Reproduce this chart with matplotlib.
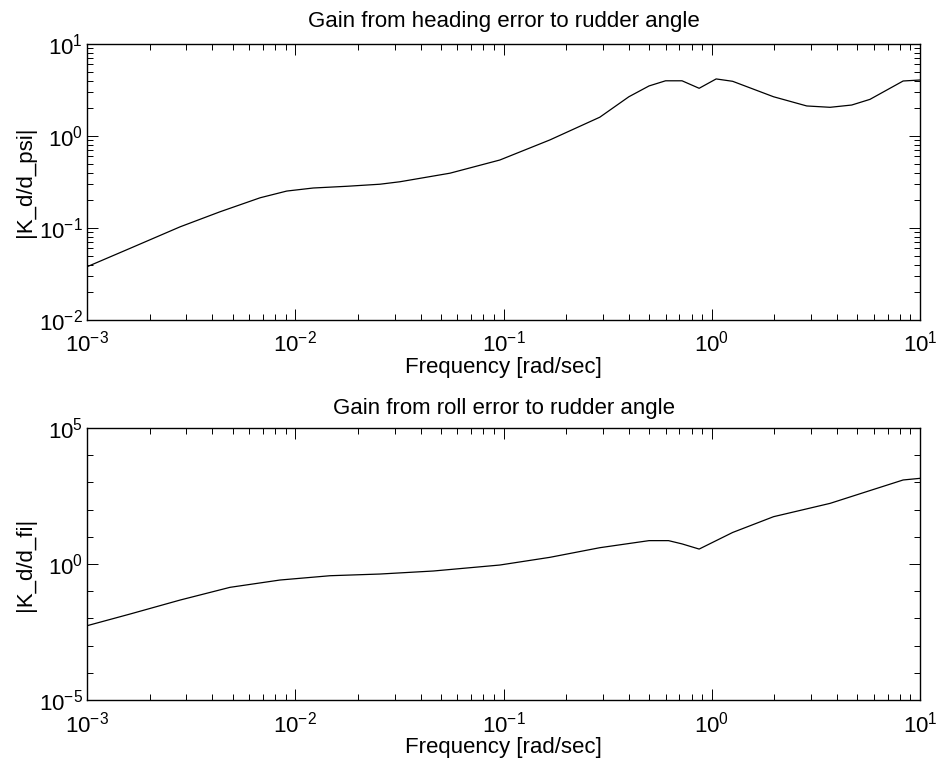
import numpy as np
import matplotlib.pyplot as plt
from matplotlib.ticker import LogLocator, NullFormatter

plt.rcParams['font.family'] = ['Liberation Sans', 'DejaVu Sans']
plt.rcParams['mathtext.fontset'] = 'custom'
plt.rcParams['mathtext.rm'] = 'Liberation Sans'

# frequency samples [rad/sec] and |K_d/d_psi|
freq_psi = [0.001, 0.00161, 0.0028, 0.00435, 0.00678, 0.0091, 0.0122, 0.0177,
            0.0255, 0.0318, 0.0553, 0.096, 0.167, 0.29, 0.4, 0.5, 0.6, 0.72,
            0.87, 1.05, 1.26, 1.98, 2.86, 3.7, 4.7, 5.75, 8.3, 10.0]
gain_psi = [0.0379, 0.0601, 0.103, 0.150, 0.213, 0.252, 0.272, 0.284, 0.299,
            0.318, 0.394, 0.548, 0.906, 1.60, 2.67, 3.5, 3.98, 3.98, 3.3, 4.17,
            3.93, 2.67, 2.12, 2.05, 2.17, 2.5, 3.96, 4.06]

# frequency samples [rad/sec] and log10 |K_d/d_fi|
freq_fi = [0.001, 0.00161, 0.0028, 0.00486, 0.00845, 0.0147, 0.0255, 0.046,
           0.096, 0.167, 0.29, 0.5, 0.62, 0.72, 0.87, 1.26, 1.98, 3.7, 5.75,
           8.3, 10.0]
log_gain_fi = [-2.268, -1.838, -1.324, -0.857, -0.588, -0.43, -0.368, -0.257,
               -0.037, 0.246, 0.60, 0.86, 0.86, 0.74, 0.55, 1.16, 1.74, 2.23,
               2.70, 3.09, 3.15]
gain_fi = 10 ** np.array(log_gain_fi)

fig = plt.figure(figsize=(9.4, 7.69), dpi=100)
ax1 = fig.add_axes([0.0926, 0.5839, 0.8861, 0.3589])
ax2 = fig.add_axes([0.0926, 0.0897, 0.8861, 0.3537])


def style(ax):
    ax.set_xscale('log')
    ax.set_yscale('log')
    ax.set_xlim(1e-3, 10)
    ax.tick_params(which='both', direction='in', top=True, right=True,
                   labelsize=16, width=0.7)
    ax.tick_params(which='major', length=8)
    ax.tick_params(axis='x', which='major', pad=8)
    ax.tick_params(axis='y', which='major', pad=3)
    ax.tick_params(which='minor', length=4)
    ax.xaxis.set_major_locator(LogLocator(base=10, numticks=10))
    ax.xaxis.set_minor_locator(LogLocator(base=10, subs=np.arange(2, 10), numticks=20))
    ax.xaxis.set_minor_formatter(NullFormatter())
    for s in ax.spines.values():
        s.set_linewidth(1.0)


ax1.plot(freq_psi, gain_psi, color='black', linewidth=0.9)
style(ax1)
ax1.set_ylim(1e-2, 10)
ax1.yaxis.set_minor_locator(LogLocator(base=10, subs=np.arange(2, 10), numticks=20))
ax1.yaxis.set_minor_formatter(NullFormatter())
ax1.set_title('Gain from heading error to rudder angle', fontsize=16, pad=12)
ax1.set_xlabel('Frequency [rad/sec]', fontsize=16, labelpad=0)
ax1.set_ylabel('|K_d/d_psi|', fontsize=16, labelpad=2)

ax2.plot(freq_fi, gain_fi, color='black', linewidth=0.9)
style(ax2)
ax2.set_ylim(1e-5, 1e5)
ax2.set_yticks([1e-5, 1e0, 1e5])
ax2.yaxis.set_minor_locator(LogLocator(base=10, subs=[1.0], numticks=20))
ax2.yaxis.set_minor_formatter(NullFormatter())
ax2.set_title('Gain from roll error to rudder angle', fontsize=16, pad=10)
ax2.set_xlabel('Frequency [rad/sec]', fontsize=16, labelpad=0)
ax2.set_ylabel('|K_d/d_fi|', fontsize=16, labelpad=2)

fig.savefig('out.png', dpi=100)
